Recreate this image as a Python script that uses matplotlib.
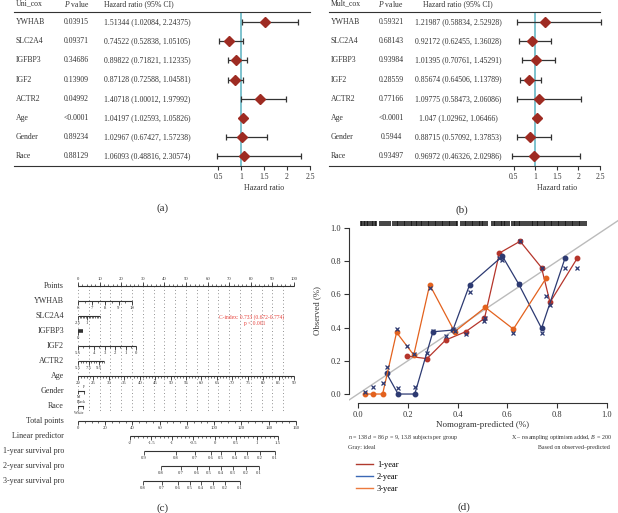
import numpy as np
import matplotlib
matplotlib.use("Agg")
import matplotlib.pyplot as plt
from matplotlib.lines import Line2D
from matplotlib.transforms import blended_transform_factory

plt.rcParams['font.family'] = ['Liberation Serif', 'DejaVu Serif']
plt.rcParams['mathtext.fontset'] = 'custom'
plt.rcParams['mathtext.rm'] = 'Liberation Serif'
plt.rcParams['mathtext.it'] = 'Liberation Serif:italic'

W, H = 618, 513
INK = '#333333'
TEAL = '#5AB2C0'
DIAMOND = '#9E2B22'

# ---------------- data: Cox regressions (a) and (b)
cox_vars = ["YWHAB", "SLC2A4", "IGFBP3", "IGF2", "ACTR2", "Age", "Gender", "Race"]
uni_p = ["0.03915", "0.09371", "0.34686", "0.13909", "0.04992", "<0.0001", "0.89234", "0.88129"]
uni_hr = [1.51344, 0.74522, 0.89822, 0.87128, 1.40718, 1.04197, 1.02967, 1.06093]
uni_lo = [1.02084, 0.52838, 0.71821, 0.72588, 1.00012, 1.02593, 0.67427, 0.48816]
uni_hi = [2.24375, 1.05105, 1.12335, 1.04581, 1.97992, 1.05826, 1.57238, 2.30574]

mult_p = ["0.59321", "0.68143", "0.93984", "0.28559", "0.77166", "<0.0001", "0.5944", "0.93497"]
mult_hr = [1.21987, 0.92172, 1.01395, 0.85674, 1.09775, 1.047, 0.88715, 0.96972]
mult_lo = [0.58834, 0.62455, 0.70761, 0.64506, 0.58473, 1.02962, 0.57092, 0.46326]
mult_hi = [2.52928, 1.36028, 1.45291, 1.13789, 2.06086, 1.06466, 1.37853, 2.02986]
hr_ticks = [0.5, 1, 1.5, 2, 2.5]

# ---------------- data: nomogram (c)
nomo_rows = ["Points", "YWHAB", "SLC2A4", "IGFBP3", "IGF2", "ACTR2", "Age", "Gender", "Race",
             "Total points", "Linear predictor", "1-year survival pro", "2-year survival pro",
             "3-year survival pro"]
points_ticks = [0, 10, 20, 30, 40, 50, 60, 70, 80, 90, 100]
ywhab_vals = [6, 7, 8, 9, 10]
ywhab_range = ([6, 10], [0, 25])
slc_vals = [2.5, 1]
slc_range = ([2.5, -1], [0, 10])
igfbp3_vals = [0]
igf2_vals = [5.5, 4, 3, 2, 1, 0]
igf2_range = ([5.5, 0], [0, 27])
actr2_vals = [5.5, 7.5, 9.5]
actr2_range = ([5.5, 10.5], [0, 12.2])
age_vals = [20, 25, 30, 35, 40, 45, 50, 55, 60, 65, 70, 75, 80, 85, 90]
age_range = ([20, 90], [0, 100])
gender_pts = {"M": 0, "F": 3}
race_pts = {"White": 0, "Black": 2.5}
total_ticks = [0, 20, 40, 60, 80, 100, 120, 140, 160]
total_max_pts = 100.9          # 160 total points on the points scale
lp_vals = [-2, -1.5, -1, -0.5, 0, 0.5, 1, 1.5]
lp_range = ([-2, 1.5], [38.2, 146.8])   # linear predictor -> total points
surv1_vals = [0.9, 0.8, 0.7, 0.6, 0.5, 0.4, 0.3, 0.2, 0.1]
surv1_tp = [48.4, 71.9, 85.9, 97.6, 105.0, 115.2, 124.0, 133.6, 144.6]
surv2_vals = [0.8, 0.7, 0.6, 0.5, 0.4, 0.3, 0.2, 0.1]
surv2_tp = [60.9, 75.6, 87.3, 96.1, 105.0, 113.8, 123.3, 132.8]
surv3_vals = [0.8, 0.7, 0.6, 0.5, 0.4, 0.3, 0.2, 0.1]
surv3_tp = [47.7, 61.7, 73.4, 82.2, 90.3, 99.1, 107.9, 118.9]

# ---------------- data: calibration (d)
cal1_x = [0.195, 0.277, 0.352, 0.432, 0.508, 0.568, 0.651, 0.737, 0.771, 0.880]
cal1_obs = [0.229, 0.213, 0.325, 0.375, 0.456, 0.849, 0.920, 0.761, 0.552, 0.817]
cal1_cor = [0.289, 0.249, 0.351, 0.360, 0.440, 0.820, 0.920, 0.760, 0.536, 0.757]
cal2_x = [0.115, 0.161, 0.228, 0.301, 0.381, 0.448, 0.580, 0.645, 0.737, 0.831]
cal2_obs = [0.124, 0.000, 0.000, 0.375, 0.385, 0.657, 0.830, 0.663, 0.396, 0.817]
cal2_cor = [0.160, 0.034, 0.044, 0.380, 0.390, 0.616, 0.810, 0.660, 0.370, 0.757]
cal3_x = [0.028, 0.059, 0.099, 0.155, 0.224, 0.288, 0.388, 0.511, 0.624, 0.755]
cal3_obs = [0.000, 0.000, 0.000, 0.371, 0.235, 0.658, 0.375, 0.522, 0.391, 0.697]
cal3_cor = [0.012, 0.044, 0.064, 0.390, 0.240, 0.637, 0.380, 0.460, 0.365, 0.590]
rug_x = [0.012, 0.017, 0.023, 0.030, 0.036, 0.041, 0.049, 0.055, 0.062, 0.068, 0.074,
         0.089, 0.097, 0.104, 0.113, 0.121, 0.127,
         0.142, 0.149, 0.155, 0.161, 0.168, 0.176, 0.183, 0.189, 0.196, 0.203, 0.211,
         0.218, 0.224, 0.231, 0.239, 0.246, 0.252, 0.259, 0.266, 0.274, 0.281, 0.287,
         0.294, 0.302, 0.309, 0.315, 0.322, 0.330, 0.337, 0.343, 0.351, 0.358, 0.364,
         0.371, 0.379, 0.386, 0.392, 0.398,
         0.414, 0.421, 0.428, 0.434, 0.441, 0.449, 0.456, 0.462, 0.469, 0.477, 0.484,
         0.490, 0.497, 0.503, 0.511, 0.517,
         0.538, 0.545, 0.551, 0.558, 0.566, 0.573, 0.579, 0.586, 0.592, 0.599, 0.605,
         0.618, 0.625, 0.631, 0.638, 0.645, 0.652, 0.659, 0.666, 0.673,
         0.683, 0.690, 0.697, 0.703, 0.711, 0.718, 0.724, 0.731, 0.739, 0.746, 0.752,
         0.759, 0.767, 0.774, 0.780, 0.787, 0.795, 0.802, 0.808, 0.815, 0.823, 0.830,
         0.836, 0.843, 0.851, 0.858, 0.864, 0.871, 0.879, 0.886, 0.892, 0.899, 0.907, 0.914]
cal_ticks = [0.0, 0.2, 0.4, 0.6, 0.8, 1.0]

fig = plt.figure(figsize=(W / 100, H / 100), dpi=100)


def px_axes(x0, y0, x1, y1):
    return fig.add_axes([x0 / W, 1 - y1 / H, (x1 - x0) / W, (y1 - y0) / H])


def fig_text(px, py, s, **kw):
    fig.text(px / W, 1 - py / H, s, **kw)


# ---------------- forest plots
def forest(x0, x1, x_half, title, pvals, hr, lo, hi, p_x, hr_x, ha):
    ax = px_axes(x0, 12.4, x1, 166)
    left = 0.5 - (x_half - x0) / (x1 - x_half) * 2.0
    n = len(cox_vars)
    ax.set_xlim(left, 2.5)
    ax.set_ylim(n - 0.5, -0.5)
    fx = lambda px: (px - x0) / (x1 - x0)
    tr = blended_transform_factory(ax.transAxes, ax.transData)
    hr, lo, hi = np.array(hr), np.array(lo), np.array(hi)
    rows = np.arange(n)
    ax.axvline(1, color=TEAL, lw=1.1, zorder=1)
    eb = ax.errorbar(hr, rows, xerr=[hr - lo, hi - hr], fmt='D', ms=5, mfc=DIAMOND, mec=DIAMOND,
                     ecolor=INK, elinewidth=0.9, capsize=2, capthick=0.9, zorder=3)
    for art in eb.get_children():
        art.set_clip_on(False)
    fs = 5.6
    for i in range(n):
        ax.text(fx(x0 + 2), i, cox_vars[i], transform=tr, fontsize=fs, va='center', color=INK)
        ax.text(fx(p_x), i, pvals[i], transform=tr, fontsize=fs, va='center', ha=ha, color=INK)
        ax.text(fx(hr_x), i, f"{hr[i]} ({lo[i]}, {hi[i]})", transform=tr, fontsize=fs,
                va='center', ha=ha, color=INK)
    hy = -0.95
    ax.text(fx(x0 + 2), hy, title, transform=tr, fontsize=fs, va='center', color=INK)
    ax.text(fx(p_x), hy, r"$\mathit{P}$ value", transform=tr, fontsize=fs, va='center', ha=ha,
            color=INK)
    ax.text(fx(hr_x), hy, "Hazard ratio (95% CI)", transform=tr, fontsize=fs, va='center',
            ha=ha, color=INK)
    for s in ['left', 'right']:
        ax.spines[s].set_visible(False)
    for s in ['top', 'bottom']:
        ax.spines[s].set_linewidth(0.8)
        ax.spines[s].set_color(INK)
    ax.set_yticks([])
    ax.set_xticks(hr_ticks)
    ax.set_xticklabels(['0.5', '1', '1.5', '2', '2.5'])
    ax.tick_params(axis='x', labelsize=5.5, length=3, width=0.8, colors=INK, pad=2)
    ax.text(1.5, -0.145, "Hazard ratio", transform=blended_transform_factory(ax.transData, ax.transAxes),
            fontsize=5.8, ha='center', va='center', color=INK)
    return ax


forest(14, 310, 218, "Uni_cox", uni_p, uni_hr, uni_lo, uni_hi, 64, 104, 'left')
forest(329, 600, 513.5, "Mult_cox", mult_p, mult_hr, mult_lo, mult_hi, 391, 458, 'center')

# ---------------- nomogram
nomo = px_axes(78, 271, 294, 496)
nomo.set_xlim(0, 100)
nomo.set_ylim(14, -1)
nomo.axis('off')
TP = total_max_pts / 160.0
small = 3.4


def nomo_axis(row, lo_pt, hi_pt, minor_pts, major_pts, labels, side=1, lw=0.8):
    nomo.plot([lo_pt, hi_pt], [row, row], color=INK, lw=lw, solid_capstyle='butt', clip_on=False)
    nomo.vlines(minor_pts, row, row + side * 0.14, color=INK, lw=0.5, clip_on=False)
    nomo.vlines(major_pts, row, row + side * 0.24, color=INK, lw=0.6, clip_on=False)
    for p, lab in zip(major_pts, labels):
        nomo.text(p, row + side * 0.45, lab, fontsize=small, ha='center', va='center',
                  color=INK, clip_on=False)


for i, name in enumerate(nomo_rows):
    nomo.text(-6.5, i, name, fontsize=5.8, ha='right', va='center', color=INK, clip_on=False)

# dotted guide lines
nomo.vlines(np.arange(0, 101, 5), 0, 8.35, color='#555555', lw=0.55, linestyles=(0, (1, 3.5)))

# Points
nomo_axis(0, 0, 100, np.arange(0, 101, 2), points_ticks, [str(t) for t in points_ticks], side=-1)
mp = lambda v, rng: np.interp(v, sorted(rng[0]), [rng[1][0], rng[1][1]] if rng[0][0] < rng[0][1] else [rng[1][1], rng[1][0]])
# YWHAB
nomo_axis(1, 0, 25, mp(np.arange(6, 10.01, 0.5), ywhab_range), mp(ywhab_vals, ywhab_range),
          [str(v) for v in ywhab_vals])
# SLC2A4
nomo_axis(2, 0, 10, mp(np.arange(-1, 2.51, 0.25), slc_range), mp(slc_vals, slc_range),
          [str(v) for v in slc_vals])
# IGFBP3
nomo_axis(3, 0, 2.3, [], [0], [str(v) for v in igfbp3_vals], lw=2.6)
# IGF2
nomo_axis(4, 0, 27, mp(np.arange(0, 5.51, 0.5), igf2_range), mp(igf2_vals, igf2_range),
          [str(v) for v in igf2_vals])
# ACTR2
nomo_axis(5, 0, 12.2, mp(np.arange(5.5, 10.51, 0.5), actr2_range), mp(actr2_vals, actr2_range),
          [str(v) for v in actr2_vals])
# Age
nomo_axis(6, 0, 100, mp(np.arange(20, 90.1, 1), age_range), mp(age_vals, age_range),
          [str(v) for v in age_vals])
# Gender
tiny = 2.8
nomo.plot([gender_pts["M"], gender_pts["F"]], [7, 7], color=INK, lw=0.8)
nomo.vlines(list(gender_pts.values()), 7, 7.2, color=INK, lw=0.6)
nomo.text(gender_pts["F"], 6.7, "F", fontsize=tiny, ha='center', va='center', color=INK)
nomo.text(gender_pts["M"] + 0.5, 7.38, "M", fontsize=tiny, ha='center', va='center', color=INK)
# Race
nomo.plot([race_pts["White"], race_pts["Black"]], [8, 8], color=INK, lw=0.8)
nomo.vlines(list(race_pts.values()), 8, 8.2, color=INK, lw=0.6)
nomo.text(race_pts["Black"] - 0.8, 7.72, "Black", fontsize=tiny, ha='center', va='center', color=INK)
nomo.text(race_pts["White"] + 0.5, 8.45, "White", fontsize=tiny, ha='center', va='center', color=INK,
          clip_on=False)
# Total points
nomo_axis(9, 0, 160 * TP, np.arange(0, 161, 5) * TP, np.array(total_ticks) * TP,
          [str(t) for t in total_ticks])
# Linear predictor
lp_tp = np.interp(lp_vals, lp_range[0], lp_range[1])
nomo_axis(10, lp_tp[0] * TP, lp_tp[-1] * TP,
          np.interp(np.arange(-2, 1.51, 0.1), lp_range[0], lp_range[1]) * TP, lp_tp * TP,
          [str(v) for v in lp_vals])
# survival probabilities
for row, vals, tp in [(11, surv1_vals, surv1_tp), (12, surv2_vals, surv2_tp), (13, surv3_vals, surv3_tp)]:
    tp = np.array(tp) * TP
    nomo_axis(row, tp[0], tp[-1], [], tp, [str(v) for v in vals])

nomo.text(80.5, 2.05, "C-index: 0.733 (0.672-0.774)", fontsize=4, color='#E8403A', ha='center',
          va='center')
nomo.text(82, 2.5, "p < 0.001", fontsize=4, color='#E8403A', ha='center', va='center')

# ---------------- calibration
RED, NAVY, ORANGE = '#B5352B', '#2D3A72', '#E3621E'
cal = px_axes(349, 218, 618, 403)
cal.set_xlim(-0.036, 1.044)
cal.set_ylim(-0.054, 1.06)
cal.axline((0, 0), slope=1, color='#BBBBBB', lw=1.0, zorder=1)
cal.vlines(rug_x, 1.012, 1.042, color='#111111', lw=1.1)
for xs, obs, cor, c in [(cal1_x, cal1_obs, cal1_cor, RED), (cal2_x, cal2_obs, cal2_cor, NAVY),
                        (cal3_x, cal3_obs, cal3_cor, ORANGE)]:
    cal.plot(xs, obs, '-o', color=c, lw=0.9, ms=3.2, zorder=3)
    cal.plot(xs, cor, 'x', color=NAVY, ms=3.2, mew=0.9, zorder=4)
for s in ['top', 'right']:
    cal.spines[s].set_visible(False)
for s in ['left', 'bottom']:
    cal.spines[s].set_bounds(0, 1)
    cal.spines[s].set_color(INK)
    cal.spines[s].set_linewidth(0.8)
cal.set_xticks(cal_ticks)
cal.set_yticks(cal_ticks)
cal.set_xticklabels([f"{t:.1f}" for t in cal_ticks])
cal.set_yticklabels([f"{t:.1f}" for t in cal_ticks])
cal.tick_params(labelsize=6, length=3.5, width=0.8, colors=INK, pad=2)
fig_text(317, 311, "Observed (%)", fontsize=6.3, rotation=90, ha='center', va='center', color=INK)
fig_text(483, 425, "Nomogram-predicted (%)", fontsize=6.5, ha='center', va='center', color=INK)
fig_text(348, 438, r"$\mathit{n}$ = 138 $\mathit{d}$ = 86 $\mathit{p}$ = 9, 13.8 subjects per group",
         fontsize=4.3, va='center', color=INK)
fig_text(348, 447, "Gray: ideal", fontsize=4.3, va='center', color=INK)
fig_text(612, 438, r"X – resampling optimism added, $\mathit{B}$ = 200", fontsize=4.3,
         va='center', ha='right', color=INK)
fig_text(610, 447, "Based on observed–predicted", fontsize=4.3, va='center', ha='right', color=INK)

handles = [Line2D([], [], color='#B03A2E', lw=1), Line2D([], [], color='#3B68B5', lw=1),
           Line2D([], [], color='#EC7A3D', lw=1)]
fig.legend(handles, ["1-year", "2-year", "3-year"], loc='upper left',
           bbox_to_anchor=(352 / W, 1 - 457 / H), frameon=False, fontsize=6,
           handlelength=2.0, handletextpad=0.5, labelspacing=0.45, borderpad=0)

# panel labels
fig_text(163, 208, "(a)", fontsize=8, ha='center', va='center', color=INK)
fig_text(462, 210, "(b)", fontsize=8, ha='center', va='center', color=INK)
fig_text(163, 508, "(c)", fontsize=8, ha='center', va='center', color=INK)
fig_text(464, 507, "(d)", fontsize=8, ha='center', va='center', color=INK)

fig.savefig("out.png", dpi=100)
